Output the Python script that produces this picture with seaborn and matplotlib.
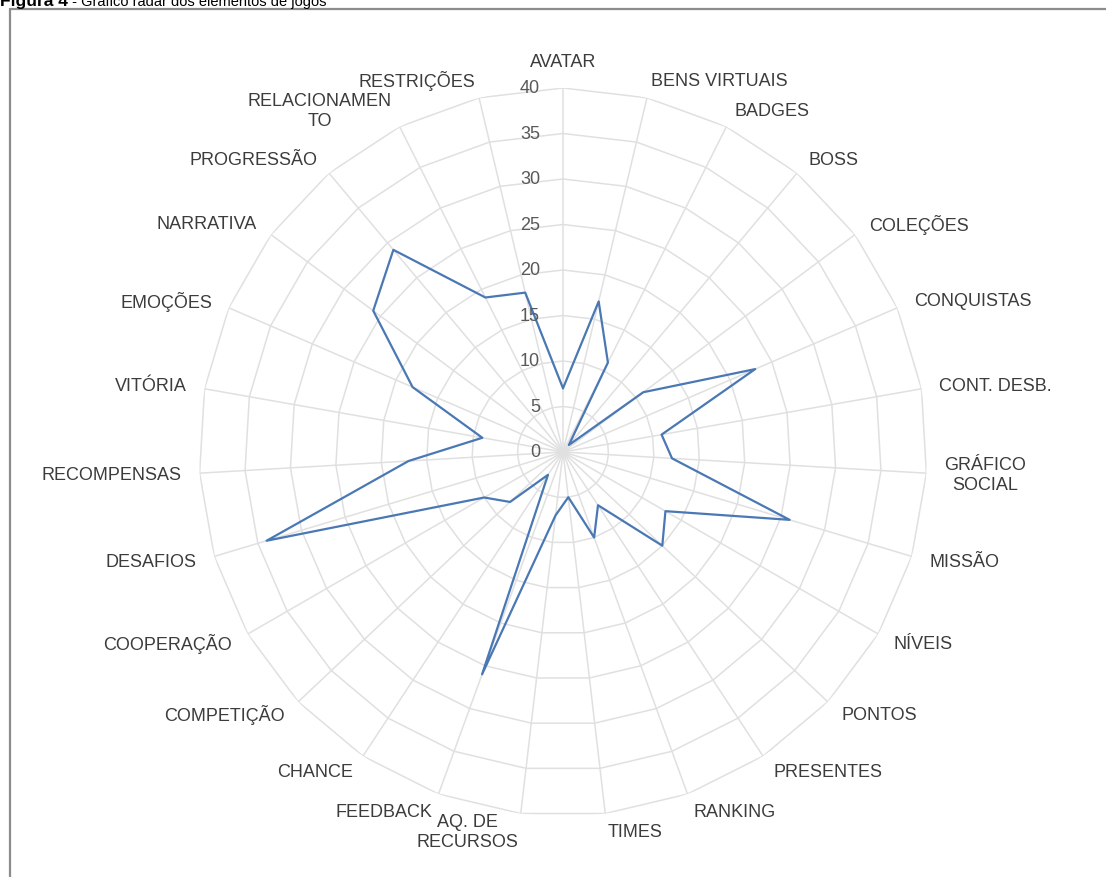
"""
radar_elementos.py - Radar chart of game elements (Figura 4)
"""

import numpy as np
import pandas as pd
import matplotlib
matplotlib.use('Agg')
import matplotlib.pyplot as plt
from matplotlib.lines import Line2D
import seaborn as sns

sns.set_theme(style='white')
plt.rcParams['font.family'] = ['Liberation Sans', 'DejaVu Sans']

# ── Data ───────────────────────────────────────────────────────────
categories = ['AVATAR', 'BENS VIRTUAIS', 'BADGES', 'BOSS', 'COLEÇÕES',
              'CONQUISTAS', 'CONT. DESB.', 'GRÁFICO\nSOCIAL', 'MISSÃO',
              'NÍVEIS', 'PONTOS', 'PRESENTES', 'RANKING', 'TIMES',
              'AQ. DE\nRECURSOS', 'FEEDBACK', 'CHANCE', 'COMPETIÇÃO',
              'COOPERAÇÃO', 'DESAFIOS', 'RECOMPENSAS', 'VITÓRIA',
              'EMOÇÕES', 'NARRATIVA', 'PROGRESSÃO', 'RELACIONAMEN\nTO',
              'RESTRIÇÕES']
counts = [7, 17, 11, 1, 11, 23, 11, 12, 26, 13, 15, 7, 10, 5,
          7, 26, 3, 8, 10, 34, 17, 9, 18, 26, 29, 19, 18]
r_ticks = [0, 5, 10, 15, 20, 25, 30, 35, 40]

GRID = '#e0e0e0'
LINE = '#4a78b4'
TEXT = '#3c3c3c'

W, H = 1106, 878
cx, cy, R = 563, 453, 364   # centre and radius of the 40 ring, in px

fig = plt.figure(figsize=(W / 100, H / 100), dpi=100)
fig.patch.set_facecolor('white')

# frame of the pasted figure (only top and left edges are visible)
fig.add_artist(Line2D([10 / W, 1.0], [1 - 10 / H, 1 - 10 / H],
                      transform=fig.transFigure, color='#8c8c8c', lw=1.6))
fig.add_artist(Line2D([10 / W, 10 / W], [0.0, 1 - 10 / H],
                      transform=fig.transFigure, color='#8c8c8c', lw=1.6))

# caption, partly cut at the top edge as in the source page
cap = fig.text(0.0, 1 - 9 / H, 'Figura 4', fontsize=12.5, fontweight='bold',
               va='bottom', ha='left', color='#000000')
fig.add_artist(plt.Annotation(' - Gráfico radar dos elementos de jogos',
                              xy=(1, 0), xycoords=cap, va='bottom',
                              ha='left', fontsize=10.5, color='#000000'))

ax = fig.add_axes([(cx - R) / W, (H - cy - R) / H, 2 * R / W, 2 * R / H],
                  projection='polar')
ax.set_theta_zero_location('N')
ax.set_theta_direction(-1)
ax.set_ylim(0, 40)
ax.grid(False)
ax.set_xticks([])
ax.set_yticks([])
ax.spines['polar'].set_visible(False)
ax.set_facecolor('none')

n = len(categories)
theta = np.arange(n) * 2 * np.pi / n
theta_closed = np.append(theta, theta[0])

# polygon gridlines and spokes
for v in r_ticks[1:]:
    ax.plot(theta_closed, [v] * (n + 1), color=GRID, lw=1.1, zorder=1)
for t in theta:
    ax.plot([t, t], [0, r_ticks[-1]], color=GRID, lw=1.1, zorder=1)

# data series
df = pd.DataFrame({'theta': theta_closed,
                   'count': counts + [counts[0]]})
sns.lineplot(data=df, x='theta', y='count', sort=False, estimator=None,
             color=LINE, linewidth=1.6, ax=ax, zorder=3)
ax.set_xlabel('')
ax.set_ylabel('')

# radial tick labels
for v in r_ticks:
    ax.annotate(str(v), xy=(0, v), xytext=(-16.5, 0),
                textcoords='offset points', ha='right', va='center',
                fontsize=13, color='#595959', annotation_clip=False)

# category labels
for t, lab in zip(theta, categories):
    s, c = np.sin(t), np.cos(t)
    ha = 'left' if s > 0.1 else ('right' if s < -0.1 else 'center')
    va = 'center'
    if abs(s) <= 0.1 and c > 0:
        va = 'bottom'
    ax.text(t, 42, lab, ha=ha, va=va, multialignment='center',
            fontsize=13, color=TEXT, clip_on=False)

plt.savefig('out.png', dpi=100, facecolor='white')
plt.close()
